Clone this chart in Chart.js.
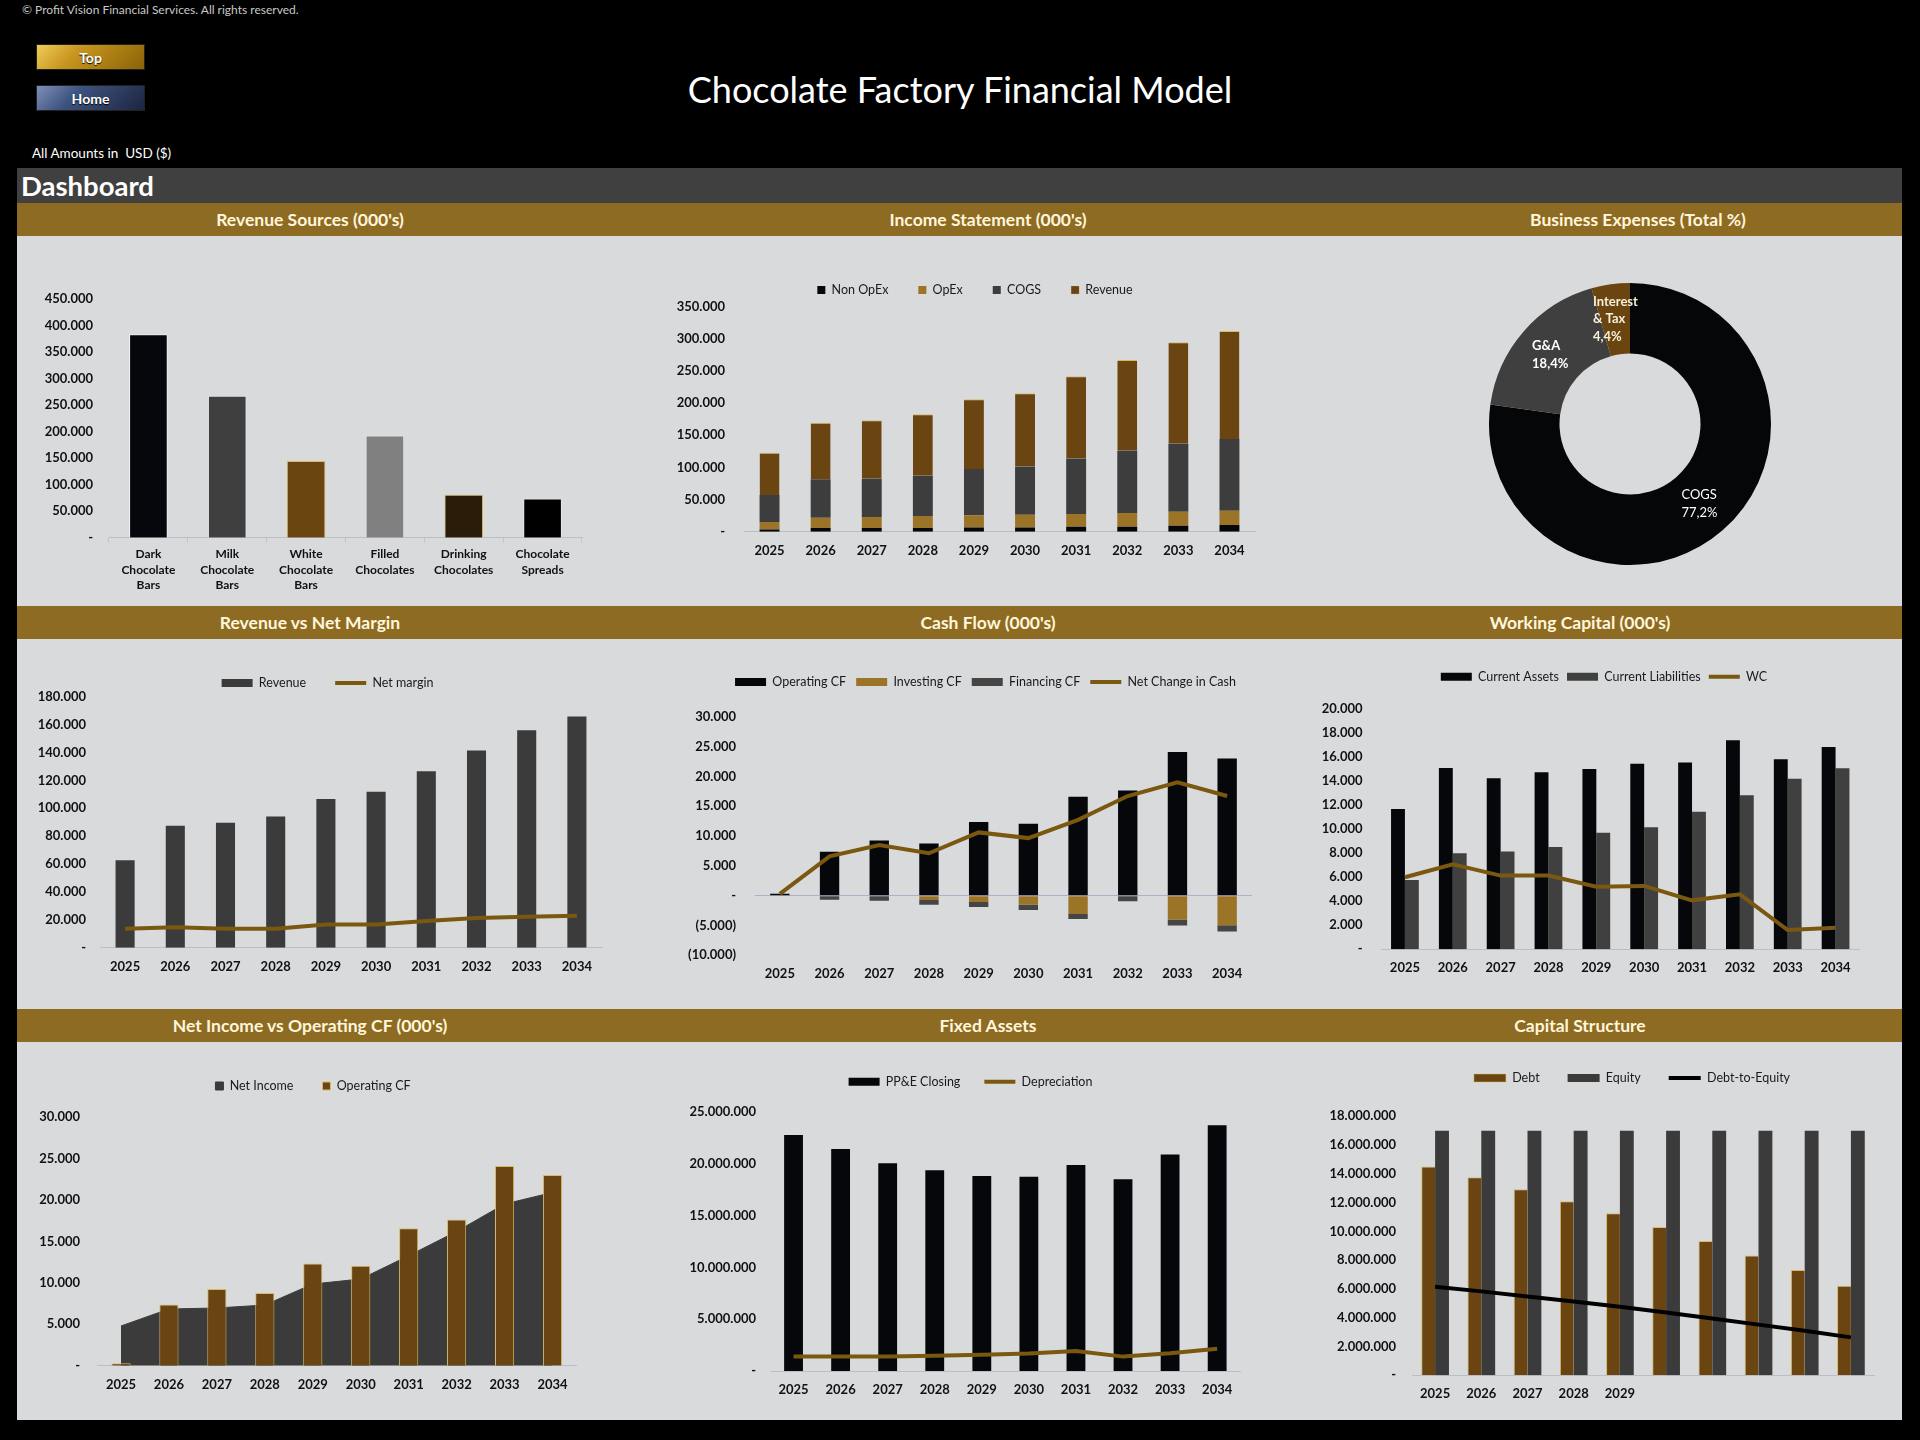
<!DOCTYPE html>
<html>
<head>
<meta charset="utf-8">
<title>Chocolate Factory Financial Model</title>
<script src="https://cdn.jsdelivr.net/npm/chart.js@4.4.1/dist/chart.umd.min.js"></script>
<style>
html,body{margin:0;padding:0;background:#000;}
body{width:1920px;height:1440px;position:relative;overflow:hidden;font-family:Lato,"Open Sans",sans-serif;}
.abs{position:absolute;}
.btn{position:absolute;color:#fff;font-weight:bold;font-size:14px;text-align:center;line-height:26px;border:1px solid #222;box-sizing:border-box;text-shadow:0 1px 1px #000;}
.band{position:absolute;left:17px;width:1885px;height:33px;background:#8e6b22;}
.bandTitle{position:absolute;width:600px;text-align:center;line-height:33px;font-size:17.5px;font-weight:bold;color:#fff6dc;}
.panel{position:absolute;left:17px;width:1885px;background:#d9dadc;}
</style>
</head>
<body>
<div class="abs" style="left:22px;top:2px;font-size:12px;color:#c8c8c8;">© Profit Vision Financial Services. All rights reserved.</div>
<div class="btn" style="left:36px;top:44px;width:109px;height:26px;background:linear-gradient(135deg,#f0cc5a 0%,#c8961e 35%,#8a6208 100%);">Top</div>
<div class="btn" style="left:36px;top:85px;width:109px;height:26px;background:linear-gradient(135deg,#7d90b8 0%,#3f5380 35%,#1c2540 100%);">Home</div>
<div class="abs" style="left:0;top:68px;width:1920px;text-align:center;font-size:36px;line-height:42px;color:#fff;">Chocolate Factory Financial Model</div>
<div class="abs" style="left:32px;top:145px;font-size:13.5px;color:#fff;">All Amounts in&nbsp; USD ($)</div>
<div class="abs" style="left:17px;top:168px;width:1885px;height:35px;background:#404040;"></div>
<div class="abs" style="left:21px;top:168px;line-height:36px;font-size:27.5px;font-weight:bold;color:#fff;">Dashboard</div>

<div class="band" style="top:203px;"></div>
<div class="panel" style="top:236px;height:370px;"></div>
<div class="band" style="top:606px;"></div>
<div class="panel" style="top:639px;height:370px;"></div>
<div class="band" style="top:1009px;"></div>
<div class="panel" style="top:1042px;height:378px;"></div>

<div class="bandTitle" style="left:10px;top:203px;">Revenue Sources (000's)</div>
<div class="bandTitle" style="left:688px;top:203px;">Income Statement (000's)</div>
<div class="bandTitle" style="left:1338px;top:203px;">Business Expenses (Total %)</div>
<div class="bandTitle" style="left:10px;top:606px;">Revenue vs Net Margin</div>
<div class="bandTitle" style="left:688px;top:606px;">Cash Flow (000's)</div>
<div class="bandTitle" style="left:1280px;top:606px;">Working Capital (000's)</div>
<div class="bandTitle" style="left:10px;top:1009px;">Net Income vs Operating CF (000's)</div>
<div class="bandTitle" style="left:688px;top:1009px;">Fixed Assets</div>
<div class="bandTitle" style="left:1280px;top:1009px;">Capital Structure</div>

<script>
// ---------------- DATA ----------------
const years = ['2025','2026','2027','2028','2029','2030','2031','2032','2033','2034'];

const productCategories = [['Dark','Chocolate','Bars'],['Milk','Chocolate','Bars'],['White','Chocolate','Bars'],['Filled','Chocolates'],['Drinking','Chocolates'],['Chocolate','Spreads']];
const productRevenue = [384000, 268000, 145000, 193000, 81000, 74000];
const revenueSourcesAxis = [0, 450000, 50000];

const isNonOpex = [3600, 5700, 5700, 5700, 6700, 6700, 7800, 7800, 9300, 10400];
const isOpex = [11400, 16100, 17100, 18700, 18700, 19700, 19700, 21300, 21800, 22300];
const isCogs = [42000, 59600, 59600, 62800, 72100, 75200, 86400, 97000, 105800, 111500];
const isRevenue = [65900, 88200, 90800, 95400, 108400, 113600, 128100, 141100, 157700, 168000];
const incomeAxis = [0, 350000, 50000];

const expenseLabels = ['COGS', 'G&A', 'Interest & Tax'];
const expenseLabelLines = [['COGS'], ['G&A'], ['Interest', '& Tax']];
const expenseShares = [77.2, 18.4, 4.4];

const revenue = [62800, 87500, 89600, 94100, 106600, 111800, 126600, 141500, 156000, 165800];
const netMargin = [13600, 14600, 13600, 13600, 16700, 16700, 19100, 21300, 22200, 22900];
const revenueAxis = [0, 180000, 20000];

const operatingCF = [300, 7370, 9260, 8760, 12330, 12050, 16570, 17630, 24100, 23000];
const investingCF = [0, 0, 0, -730, -1060, -1500, -3070, 0, -4000, -4970];
const financingCF = [0, -670, -840, -780, -840, -900, -840, -950, -1000, -1060];
const netChangeInCash = [300, 6600, 8500, 7100, 10600, 9650, 12700, 16700, 19000, 16700];
const cashFlowAxis = [-10000, 30000, 5000];

const currentAssets = [11690, 15100, 14250, 14750, 15030, 15470, 15560, 17420, 15830, 16860];
const currentLiabilities = [5780, 8000, 8140, 8530, 9720, 10170, 11470, 12830, 14220, 15080];
const workingCapital = [6000, 7080, 6140, 6140, 5220, 5280, 4080, 4580, 1610, 1800];
const wcAxis = [0, 20000, 2000];

const netIncome = [4790, 6840, 6960, 7320, 9850, 10460, 13270, 16200, 19500, 20900];
const niAxis = [0, 30000, 5000];

const ppeClosing = [22810000, 21460000, 20070000, 19390000, 18850000, 18780000, 19910000, 18520000, 20910000, 23740000];
const depreciation = [1390000, 1390000, 1390000, 1480000, 1580000, 1680000, 1930000, 1390000, 1710000, 2160000];
const fixedAssetsAxis = [0, 25000000, 5000000];

const capYearLabels = ['2025','2026','2027','2028','2029','','','','',''];
const debt = [14510000, 13770000, 12930000, 12100000, 11260000, 10310000, 9340000, 8320000, 7320000, 6230000];
const equity = [17000000, 17000000, 17000000, 17000000, 17000000, 17000000, 17000000, 17000000, 17000000, 17000000];
const debtToEquity = [0.854, 0.810, 0.761, 0.712, 0.662, 0.606, 0.549, 0.489, 0.431, 0.366];
const capAxis = [0, 18000000, 2000000];
const deRatioAxis = [0, 2.5];

// ---------------- SETUP ----------------
const FONT = 'Lato, "Open Sans", sans-serif';
Chart.defaults.font.family = FONT;
Chart.defaults.color = '#111';
const LEGEND_H = {};
const LEGEND_DX = {};
(function patchLegend(){
  let cls = null;
  try { cls = (Chart.Legend && Chart.Legend._element) || Chart.registry.getPlugin('legend')._element; } catch(e) {}
  if (!cls) return;
  const origFit = cls.prototype.fit;
  cls.prototype.fit = function(){
    origFit.call(this);
    const id = this.chart && this.chart.canvas && this.chart.canvas.id;
    if (id && LEGEND_H[id] != null && this.isHorizontal()) this.height = LEGEND_H[id];
  };
  const origDraw = cls.prototype.draw;
  cls.prototype.draw = function(){
    const id = this.chart && this.chart.canvas && this.chart.canvas.id;
    const dx = (id && LEGEND_DX[id]) || 0;
    if (!dx) return origDraw.call(this);
    const ctx = this.ctx;
    ctx.save(); ctx.translate(dx, 0);
    origDraw.call(this);
    ctx.restore();
  };
})();

function fmtNum(v){
  if (Math.abs(v) < 1e-9) return '-';
  const s = Math.round(Math.abs(v)).toString().replace(/\B(?=(\d{3})+(?!\d))/g, '.');
  return v < 0 ? '(' + s + ')' : s;
}

function makeCanvas(id, g){
  const c = document.createElement('canvas');
  c.id = id; c.width = g.w; c.height = g.h;
  c.style.cssText = 'position:absolute;left:' + g.x + 'px;top:' + g.y + 'px;width:' + g.w + 'px;height:' + g.h + 'px;';
  document.body.appendChild(c);
  return c;
}

function layoutFor(g, leg){
  const fs = leg ? leg.fs : 12.5;
  const legTop = leg ? (leg.cy - g.y) - leg.pad - fs / 2 : 0;
  return {
    padding: { left: 0, right: g.x + g.w - g.R, top: leg ? legTop : (g.T - g.y), bottom: 0 },
    yW: g.L - g.x,
    xH: g.y + g.h - g.B,
    fixedH: leg ? (g.T - g.y) - legTop : null,
    dx: leg ? leg.cx - (g.x + g.R) / 2 : 0
  };
}

function cartesian(id, g, leg, data, yCfg, xCfg, extraScales){
  const c = makeCanvas(id, g);
  const lay = layoutFor(g, leg);
  if (leg) { LEGEND_H[id] = lay.fixedH; LEGEND_DX[id] = lay.dx; }
  const legendOpts = leg ? {
    display: true, position: 'top',
    labels: {
      font: { size: leg.fs }, color: '#1a1a1a', padding: leg.pad,
      boxWidth: leg.bw, boxHeight: leg.bh, usePointStyle: !!leg.ps,
      pointStyleWidth: leg.ps ? leg.bw : undefined,
      sort: (a, b) => a.datasetIndex - b.datasetIndex
    }
  } : { display: false };
  const xScale = Object.assign({
    stacked: !!xCfg.stacked, offset: true,
    grid: { display: false, drawTicks: false },
    border: { display: xCfg.border !== false, color: '#b9bec8', width: 1 },
    ticks: { autoSkip: false, maxRotation: 0, minRotation: 0, padding: xCfg.pad != null ? xCfg.pad : 11,
             font: { size: xCfg.fs || 13, weight: 'bold', lineHeight: xCfg.lh || 1.2 }, color: '#111' },
    afterFit: s => { s.height = lay.xH; }
  }, xCfg.extra || {});
  const scales = {
    x: xScale,
    y: {
      stacked: !!yCfg.stacked, min: yCfg.axis[0], max: yCfg.axis[1],
      grid: yCfg.grid || { display: false, drawTicks: false }, border: { display: false },
      ticks: { stepSize: yCfg.axis[2], padding: g.ypad, callback: v => fmtNum(v), font: { size: 13, weight: 'bold' }, color: '#111' },
      afterFit: s => { s.width = lay.yW; }
    }
  };
  Object.assign(scales, extraScales || {});
  return new Chart(c.getContext('2d'), {
    type: 'bar',
    data: data,
    options: {
      responsive: false, animation: false, devicePixelRatio: 1,
      layout: { padding: lay.padding },
      plugins: { legend: legendOpts, tooltip: { enabled: false } },
      scales: scales
    }
  });
}

const GOLD_LINE = '#7a5810';
const BROWN = '#6b4511';
const DARK = '#3b3b3b';
const BLACK = '#06070b';

// 1. Revenue Sources
cartesian('c1', { x: 17, y: 236, w: 623, h: 370, L: 109, R: 582, T: 299.3, B: 537.7, ypad: 16 }, null,
  { labels: productCategories, datasets: [{
      label: 'Revenue', data: productRevenue,
      backgroundColor: ['#05070c', '#3f3f3f', '#6b4510', '#808080', '#2a1c08', '#000000'],
      borderColor: ['rgba(255,255,255,0.6)', 'rgba(255,255,255,0.35)', '#d8bb6a', 'rgba(255,255,255,0.35)', '#d8bb6a', 'rgba(255,255,255,0.35)'],
      borderWidth: 1, barPercentage: 0.49, categoryPercentage: 1 }] },
  { axis: revenueSourcesAxis },
  { fs: 12, lh: 1.3, pad: 3.8, extra: { grid: { display: true, drawOnChartArea: false, drawTicks: true, tickLength: 5, color: '#c0c4cc', offset: true } } });

// 2. Income Statement
cartesian('c2', { x: 640, y: 236, w: 660, h: 370, L: 744, R: 1255, T: 306.7, B: 531.7, ypad: 19 },
  { cx: 975, cy: 290, pad: 30, fs: 12.5, bw: 8, bh: 8, ps: false },
  { labels: years, datasets: [
      { label: 'Non OpEx', data: isNonOpex, backgroundColor: BLACK, barPercentage: 0.39, categoryPercentage: 1 },
      { label: 'OpEx', data: isOpex, backgroundColor: '#9b7428', barPercentage: 0.39, categoryPercentage: 1 },
      { label: 'COGS', data: isCogs, backgroundColor: '#3d3d3d', barPercentage: 0.39, categoryPercentage: 1 },
      { label: 'Revenue', data: isRevenue, backgroundColor: BROWN, borderColor: '#d8bb6a', borderWidth: { top: 1, left: 0, right: 0, bottom: 0 }, barPercentage: 0.39, categoryPercentage: 1 }
  ] },
  { axis: incomeAxis, stacked: true }, { stacked: true });

// 3. Business Expenses donut
(function(){
  const g = { x: 1300, y: 236, w: 602, h: 370 };
  const c = makeCanvas('c3', g);
  const donutLabels = {
    id: 'donutLabels',
    afterDatasetsDraw(chart){
      const ctx = chart.ctx;
      const meta = chart.getDatasetMeta(0);
      meta.data.forEach((arc, i) => {
        const pos = arc.tooltipPosition();
        const lines = expenseLabelLines[i].concat([expenseShares[i].toFixed(1).replace('.', ',') + '%']);
        ctx.save();
        ctx.font = (i > 0 ? 'bold ' : '') + '13px ' + FONT;
        ctx.fillStyle = i === 2 ? '#f7efd8' : '#ffffff';
        ctx.textBaseline = 'middle'; ctx.textAlign = 'left';
        const lh = 17.5;
        const w = Math.max.apply(null, lines.map(l => ctx.measureText(l).width));
        const x0 = pos.x - w / 2, y0 = pos.y - (lines.length - 1) * lh / 2;
        lines.forEach((l, k) => ctx.fillText(l, x0, y0 + k * lh));
        ctx.restore();
      });
    }
  };
  new Chart(c.getContext('2d'), {
    type: 'doughnut',
    data: { labels: expenseLabels, datasets: [{ data: expenseShares, backgroundColor: ['#050608', '#3f3f3f', '#6b4510'], borderWidth: 0 }] },
    options: {
      responsive: false, animation: false, devicePixelRatio: 1, cutout: '50%',
      layout: { padding: { left: 189, right: 131, top: 47, bottom: 41 } },
      plugins: { legend: { display: false }, tooltip: { enabled: false } }
    },
    plugins: [donutLabels]
  });
})();

// 4. Revenue vs Net Margin
cartesian('c4', { x: 17, y: 639, w: 623, h: 370, L: 100, R: 602, T: 696.7, B: 947.7, ypad: 14 },
  { cx: 327.5, cy: 683, pad: 29, fs: 12.5, bw: 31, bh: 8, ps: true },
  { labels: years, datasets: [
      { label: 'Revenue', data: revenue, backgroundColor: DARK, pointStyle: 'rect', order: 1, barPercentage: 0.38, categoryPercentage: 1 },
      { type: 'line', label: 'Net margin', data: netMargin, borderColor: GOLD_LINE, backgroundColor: GOLD_LINE, borderWidth: 4, pointRadius: 0, pointStyle: 'line', tension: 0, order: 0 }
  ] },
  { axis: revenueAxis }, {});

// 5. Cash Flow
cartesian('c5', { x: 640, y: 639, w: 660, h: 370, L: 755, R: 1252, T: 716.7, B: 955.3, ypad: 19 },
  { cx: 985.5, cy: 682, pad: 10, fs: 12.5, bw: 31, bh: 8, ps: true },
  { labels: years, datasets: [
      { label: 'Operating CF', data: operatingCF, backgroundColor: BLACK, pointStyle: 'rect', stack: 'cf', order: 1, barPercentage: 0.39, categoryPercentage: 1 },
      { label: 'Investing CF', data: investingCF, backgroundColor: '#9b7428', pointStyle: 'rect', stack: 'cf', order: 1, barPercentage: 0.39, categoryPercentage: 1 },
      { label: 'Financing CF', data: financingCF, backgroundColor: '#454545', pointStyle: 'rect', stack: 'cf', order: 1, barPercentage: 0.39, categoryPercentage: 1 },
      { type: 'line', label: 'Net Change in Cash', data: netChangeInCash, stack: 'net', borderColor: GOLD_LINE, backgroundColor: GOLD_LINE, borderWidth: 4, pointRadius: 0, pointStyle: 'line', tension: 0, order: 0 }
  ] },
  { axis: cashFlowAxis, stacked: true,
    grid: { display: true, drawTicks: false, lineWidth: 1, color: ctx => (ctx.tick && ctx.tick.value === 0) ? '#aab3c6' : 'rgba(0,0,0,0)' } },
  { stacked: true, border: false });

// 6. Working Capital
cartesian('c6', { x: 1300, y: 639, w: 602, h: 370, L: 1381, R: 1859.5, T: 709.3, B: 949.3, ypad: 18.5 },
  { cx: 1604, cy: 676.7, pad: 8, fs: 12.5, bw: 31, bh: 8, ps: true },
  { labels: years, datasets: [
      { label: 'Current Assets', data: currentAssets, backgroundColor: BLACK, pointStyle: 'rect', order: 1, barPercentage: 1, categoryPercentage: 0.58 },
      { label: 'Current Liabilities', data: currentLiabilities, backgroundColor: '#404040', pointStyle: 'rect', order: 1, barPercentage: 1, categoryPercentage: 0.58 },
      { type: 'line', label: 'WC', data: workingCapital, borderColor: GOLD_LINE, backgroundColor: GOLD_LINE, borderWidth: 4, pointRadius: 0, pointStyle: 'line', tension: 0, order: 0 }
  ] },
  { axis: wcAxis }, {});

// 7. Net Income vs Operating CF
cartesian('c7', { x: 17, y: 1042, w: 623, h: 378, L: 97, R: 576.5, T: 1117, B: 1365.7, ypad: 17 },
  { cx: 313, cy: 1086, pad: 29, fs: 12.5, bw: 8, bh: 8, ps: false },
  { labels: years, datasets: [
      { type: 'line', label: 'Net Income', data: netIncome, fill: 'origin', backgroundColor: DARK, borderColor: DARK, borderWidth: 1, pointRadius: 0, tension: 0, order: 2 },
      { label: 'Operating CF', data: operatingCF, backgroundColor: BROWN, borderColor: '#d8bb6a', borderWidth: 1, order: 1, barPercentage: 0.40, categoryPercentage: 1 }
  ] },
  { axis: niAxis }, {});

// 8. Fixed Assets
cartesian('c8', { x: 640, y: 1042, w: 660, h: 378, L: 770, R: 1240.7, T: 1112.3, B: 1371, ypad: 14 },
  { cx: 970.5, cy: 1081.7, pad: 24, fs: 12.5, bw: 31, bh: 8, ps: true },
  { labels: years, datasets: [
      { label: 'PP&E Closing', data: ppeClosing, backgroundColor: BLACK, pointStyle: 'rect', order: 1, barPercentage: 0.40, categoryPercentage: 1 },
      { type: 'line', label: 'Depreciation', data: depreciation, borderColor: GOLD_LINE, backgroundColor: GOLD_LINE, borderWidth: 4, pointRadius: 0, pointStyle: 'line', tension: 0, order: 0 }
  ] },
  { axis: fixedAssetsAxis }, {});

// 9. Capital Structure
cartesian('c9', { x: 1300, y: 1042, w: 602, h: 378, L: 1412, R: 1874, T: 1116.3, B: 1375.3, ypad: 16 },
  { cx: 1632, cy: 1078, pad: 28, fs: 12.5, bw: 32, bh: 8, ps: true },
  { labels: capYearLabels, datasets: [
      { label: 'Debt', data: debt, backgroundColor: BROWN, borderColor: '#d8bb6a', borderWidth: { top: 1, left: 1, right: 0, bottom: 0 }, pointStyle: 'rect', order: 1, barPercentage: 1, categoryPercentage: 0.6 },
      { label: 'Equity', data: equity, backgroundColor: DARK, pointStyle: 'rect', order: 1, barPercentage: 1, categoryPercentage: 0.6 },
      { type: 'line', label: 'Debt-to-Equity', data: debtToEquity, yAxisID: 'y1', borderColor: '#000', backgroundColor: '#000', borderWidth: 4, pointRadius: 0, pointStyle: 'line', tension: 0, order: 0 }
  ] },
  { axis: capAxis }, {},
  { y1: { display: false, min: deRatioAxis[0], max: deRatioAxis[1] } });
</script>
</body>
</html>
